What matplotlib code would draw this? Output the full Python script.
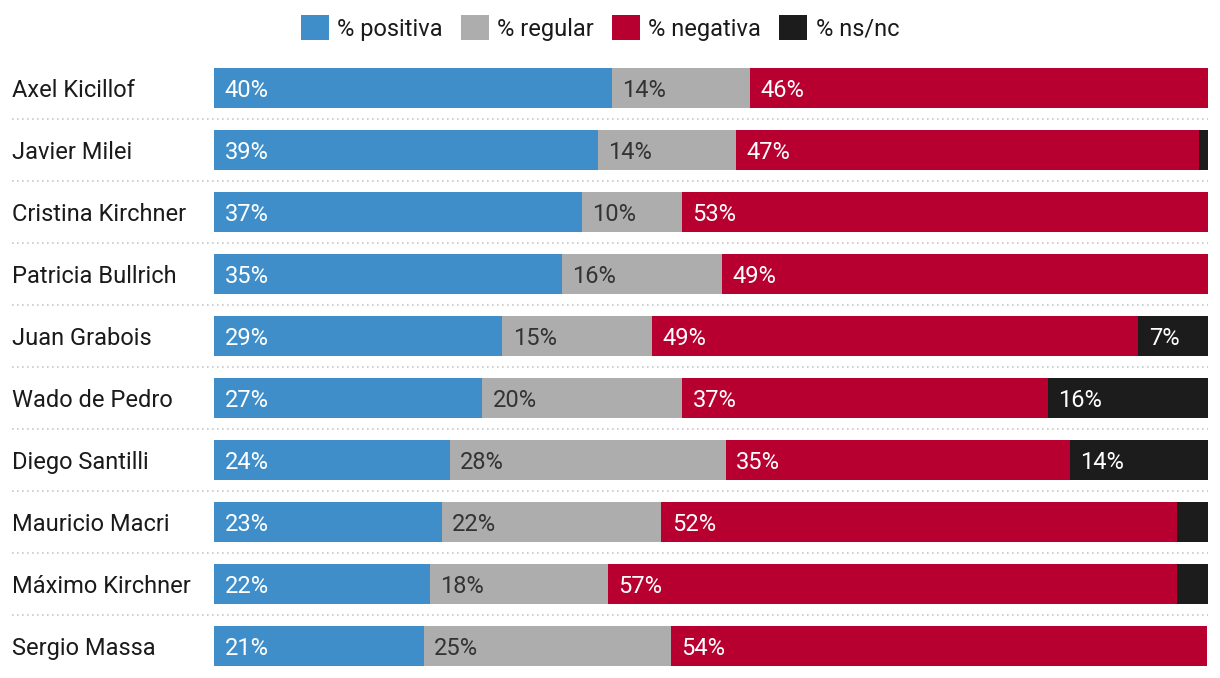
import numpy as np
import matplotlib
matplotlib.use('Agg')
from matplotlib import pyplot as plt
from matplotlib.patches import Patch
from matplotlib import transforms

NAMES = ['Axel Kicillof', 'Javier Milei', 'Cristina Kirchner', 'Patricia Bullrich',
         'Juan Grabois', 'Wado de Pedro', 'Diego Santilli', 'Mauricio Macri',
         'Máximo Kirchner', 'Sergio Massa']
POSITIVA = [40.0, 38.6, 37.0, 35.0, 29.0, 27.0, 23.7, 22.9, 21.7, 21.1]
REGULAR = [13.9, 13.9, 10.1, 16.1, 15.1, 20.1, 27.8, 22.1, 17.9, 24.9]
NEGATIVA = [46.1, 46.6, 52.9, 48.9, 48.9, 36.8, 34.6, 51.9, 57.3, 53.9]
NSNC = [0.0, 0.9, 0.0, 0.0, 7.0, 16.1, 13.9, 3.1, 3.1, 0.0]
SERIES = ['% positiva', '% regular', '% negativa', '% ns/nc']

COLORS = ['#3f8ec9', '#adadad', '#b70030', '#1c1c1c']
TEXT_COLORS = ['white', '#333333', 'white', 'white']
FONT = 'Roboto'

plt.rcParams['font.family'] = [FONT, 'DejaVu Sans']

fig = plt.figure(figsize=(12.2, 6.78), dpi=100)
W, H = 1220, 678
ax = fig.add_axes([214 / W, 1 / H, 994 / W, 620 / H])

y = np.arange(len(NAMES))
left = np.zeros(len(NAMES))
for vals, color, tcolor in zip([POSITIVA, REGULAR, NEGATIVA, NSNC], COLORS, TEXT_COLORS):
  vals = np.array(vals)
  ax.barh(y, vals, left=left, height=40 / 62, color=color, linewidth=0)
  for yi, l, v in zip(y, left, vals):
    if v >= 5:
      ax.annotate(f'{v:.0f}%', (l, yi), xytext=(7.5, 0), textcoords='offset points',
                  va='center_baseline', ha='left', color=tcolor, fontsize=17)
  left += vals

ax.set_xlim(0, 100)
ax.set_ylim(len(NAMES) - 0.5, -0.5)
ax.axis('off')

# dotted separators and row names
trans = transforms.blended_transform_factory(ax.transAxes, ax.transData)
x0 = (12 - 214) / 994
for i, name in enumerate(NAMES):
  ax.text(x0, i, name, transform=trans, ha='left', va='center_baseline',
          fontsize=17, color='#1a1a1a')
  if i < len(NAMES) - 1:
    ax.plot([x0, 1], [i + 0.5, i + 0.5], transform=trans, clip_on=False,
            color='#c8c8c8', linewidth=1.2, linestyle=(0, (1, 2)))

handles = [Patch(facecolor=c, edgecolor='none') for c in COLORS]
fig.legend(handles, SERIES, loc='center', bbox_to_anchor=(600 / W, 1 - 28 / H),
           ncol=4, frameon=False, fontsize=17, handlelength=1.2, handleheight=1.2,
           handletextpad=0.35, columnspacing=0.75, borderaxespad=0,
           labelcolor='#1a1a1a')

fig.savefig('out.png', dpi=100)
